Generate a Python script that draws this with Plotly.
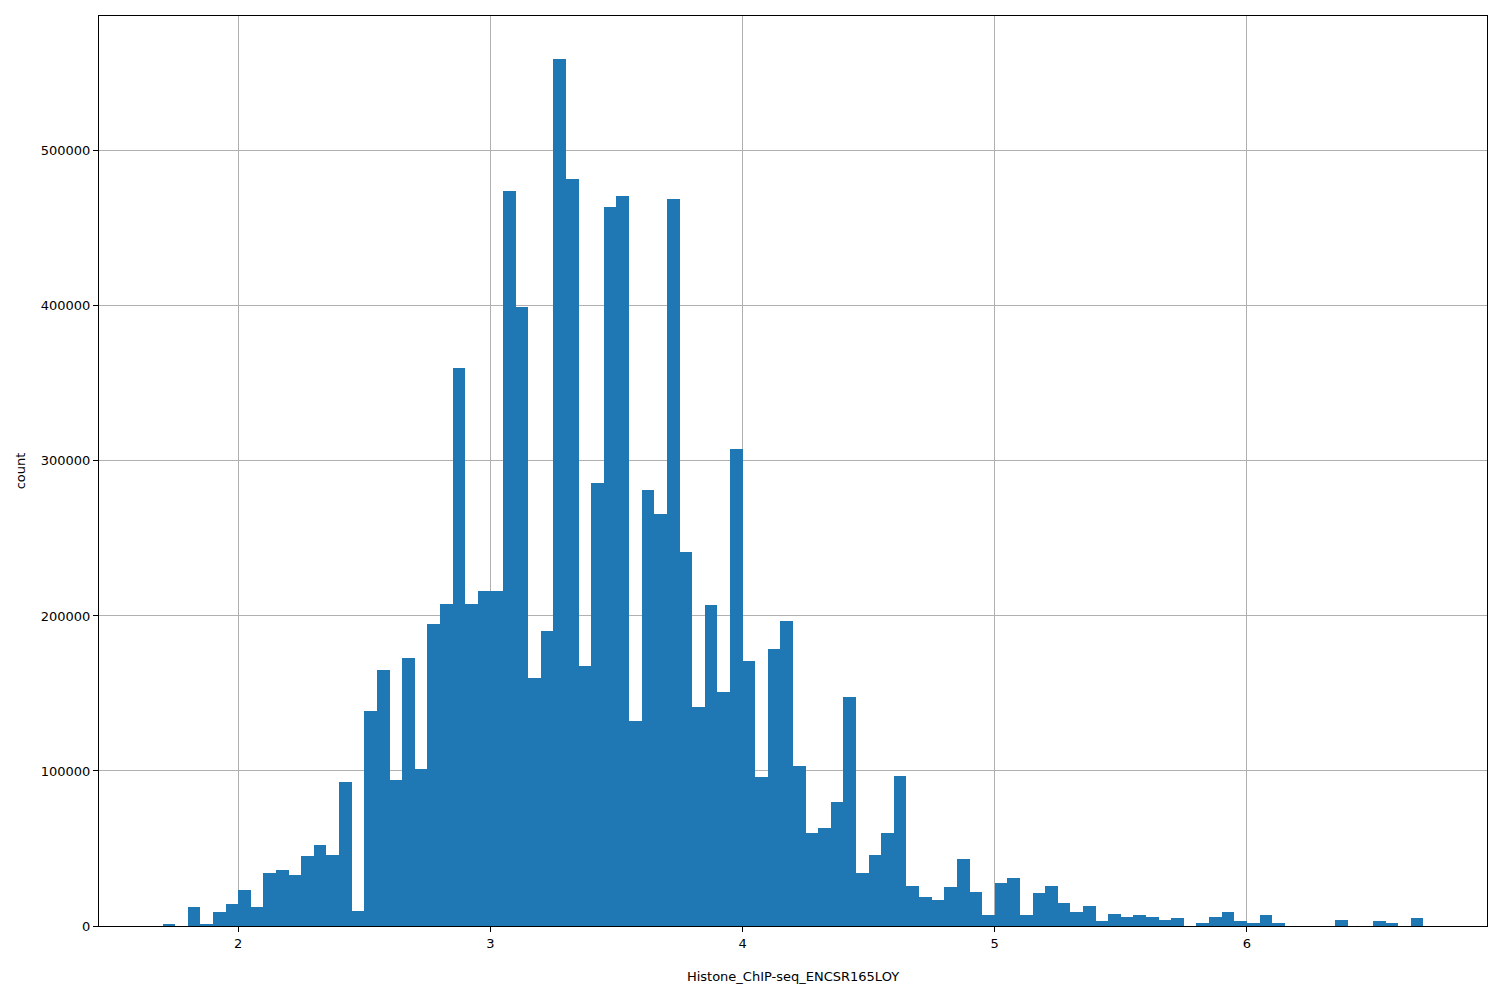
import plotly.graph_objects as go

bin_start = 1.70
bin_width = 0.05
counts = [1000, 0, 12000, 1000, 9000, 14000, 23000, 12000, 34000, 36000,
          33000, 45000, 52000, 46000, 93000, 10000, 139000, 165000, 94000, 173000,
          101000, 195000, 208000, 360000, 208000, 216000, 216000, 474000, 399000, 160000,
          190000, 559000, 482000, 168000, 286000, 464000, 471000, 132000, 281000, 266000,
          469000, 241000, 141000, 207000, 151000, 308000, 171000, 96000, 179000, 197000,
          103000, 60000, 63000, 80000, 148000, 34000, 46000, 60000, 97000, 26000,
          19000, 17000, 25000, 43000, 22000, 7000, 28000, 31000, 7000, 21000,
          26000, 15000, 9000, 13000, 3000, 8000, 6000, 7000, 6000, 4000,
          5000, 0, 2000, 6000, 9000, 3000, 2000, 7000, 2000, 0,
          0, 0, 0, 4000, 0, 0, 3000, 2000, 0, 5000]
centers = [bin_start + bin_width * (i + 0.5) for i in range(len(counts))]

fig = go.Figure(go.Bar(x=centers, y=counts, width=bin_width,
                       marker=dict(color="#1f77b4", line=dict(width=0))))
axis_common = dict(showgrid=True, gridcolor="#b0b0b0", gridwidth=1, showline=True,
                   linecolor="black", mirror=True, ticks="outside", tickcolor="black",
                   zeroline=False, tickfont=dict(size=13, color="black"),
                   layer="above traces")
fig.update_layout(
    width=1500, height=1000, plot_bgcolor="white", paper_bgcolor="white",
    margin=dict(l=91, r=21, t=8, b=82), showlegend=False,
    font=dict(family="DejaVu Sans", size=13, color="black"), bargap=0,
    xaxis=dict(range=[1.448, 6.952], tickvals=[2, 3, 4, 5, 6],
               title=dict(text="Histone_ChIP-seq_ENCSR165LOY", standoff=22,
                          font=dict(size=13)), **axis_common),
    yaxis=dict(range=[0, 587000], tickvals=[0, 100000, 200000, 300000, 400000, 500000],
               tickformat="d", title=dict(text="count", standoff=12,
                                          font=dict(size=13)), **axis_common),
)
fig.write_html("out.html")
